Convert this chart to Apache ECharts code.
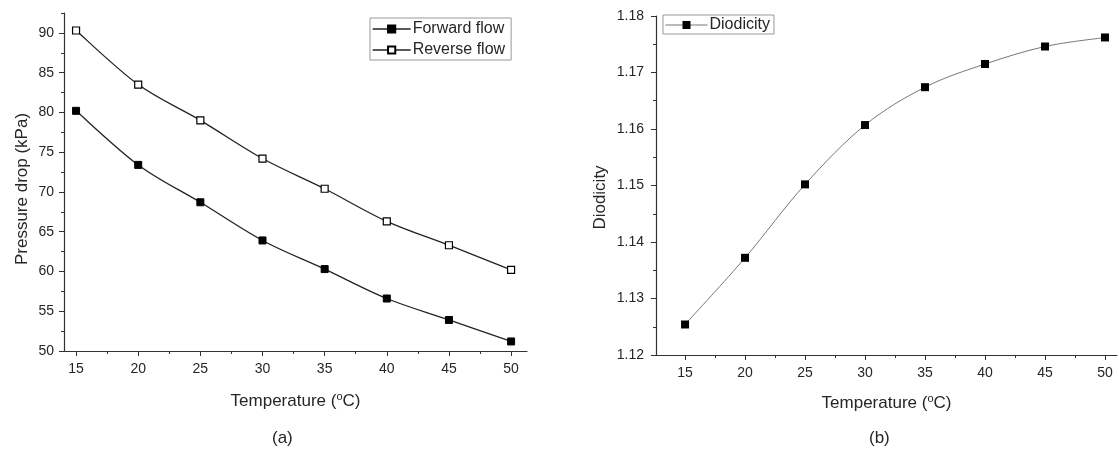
<!DOCTYPE html>
<html>
<head>
<meta charset="utf-8">
<script src="https://cdn.jsdelivr.net/npm/echarts@6/dist/echarts.min.js"></script>
<style>html,body{margin:0;padding:0;background:#fff;}#c{width:1119px;height:453px;}</style>
</head>
<body>
<div id="c"></div>
<script>
const temperatures = [15, 20, 25, 30, 35, 40, 45, 50];
const forwardFlow = [80.2, 73.4, 68.7, 63.9, 60.3, 56.6, 53.9, 51.2];
const reverseFlow = [90.3, 83.5, 79.0, 74.2, 70.4, 66.3, 63.3, 60.2];
const diodicity = [1.1254, 1.1372, 1.1502, 1.1607, 1.1674, 1.1715, 1.1746, 1.1762];
const xTicks = [15, 20, 25, 30, 35, 40, 45, 50];
const xMinorTicks = [17.5, 22.5, 27.5, 32.5, 37.5, 42.5, 47.5];
const yTicksA = [50, 55, 60, 65, 70, 75, 80, 85, 90];
const yMinorTicksA = [52.5, 57.5, 62.5, 67.5, 72.5, 77.5, 82.5, 87.5, 92.5];
const yTicksB = [1.12, 1.13, 1.14, 1.15, 1.16, 1.17, 1.18];
const yMinorTicksB = [1.125, 1.135, 1.145, 1.155, 1.165, 1.175];

const FONT = 'Liberation Sans, Arial, sans-serif';
const TXT = '#262626';
const AX = '#333';

const pairs = (ys) => temperatures.map((t, i) => [t, ys[i]]);

// smooth (Catmull-Rom) curve through the data points, positioned by the axes
function splineSeries(ys, grid, color, width) {
  return {
    type: 'custom', xAxisIndex: grid, yAxisIndex: grid, silent: true, z: 1,
    data: pairs(ys),
    renderItem: function (params, api) {
      if (params.dataIndex !== 0) return null;
      const p = temperatures.map((t, i) => api.coord([t, ys[i]]));
      let d = 'M' + p[0][0] + ' ' + p[0][1];
      for (let i = 0; i < p.length - 1; i++) {
        const p0 = p[Math.max(i - 1, 0)], p1 = p[i], p2 = p[i + 1], p3 = p[Math.min(i + 2, p.length - 1)];
        const c1 = [p1[0] + (p2[0] - p0[0]) / 6, p1[1] + (p2[1] - p0[1]) / 6];
        const c2 = [p2[0] - (p3[0] - p1[0]) / 6, p2[1] - (p3[1] - p1[1]) / 6];
        d += ' C' + c1[0] + ' ' + c1[1] + ' ' + c2[0] + ' ' + c2[1] + ' ' + p2[0] + ' ' + p2[1];
      }
      return { type: 'path', shape: { pathData: d }, style: { fill: null, stroke: color, lineWidth: width } };
    }
  };
}

const tempName = {
  name: '{a|Temperature (}{s|o}{a|C)}',
  nameLocation: 'middle',
  nameTextStyle: {
    rich: {
      a: { fontFamily: FONT, fontSize: 17, color: TXT },
      s: { fontFamily: FONT, fontSize: 11, color: TXT, verticalAlign: 'top', padding: [0, 0, 9, 0] }
    }
  }
};

function mainX(grid, min, max, gap) {
  return Object.assign({
    type: 'value', gridIndex: grid, position: 'bottom', min: min, max: max, nameGap: gap,
    axisLine: { show: true, lineStyle: { color: AX, width: 1.2 } },
    axisTick: { show: true, inside: false, length: 5, customValues: xTicks, lineStyle: { color: AX } },
    axisLabel: { customValues: xTicks, fontFamily: FONT, fontSize: 14, color: TXT, margin: 11 },
    splitLine: { show: false }
  }, tempName);
}
function minorX(grid, min, max) {
  return {
    type: 'value', gridIndex: grid, position: 'bottom', offset: 0, min: min, max: max,
    axisLine: { show: false },
    axisTick: { show: true, length: 3, customValues: xMinorTicks, lineStyle: { color: AX } },
    axisLabel: { show: false }, splitLine: { show: false }
  };
}
function mainY(grid, min, max, ticks, name, gap, shift, margin) {
  return {
    type: 'value', gridIndex: grid, position: 'left', min: min, max: max,
    name: name, nameLocation: 'middle', nameGap: gap,
    nameTextStyle: { fontFamily: FONT, fontSize: 17, color: TXT, padding: [0, shift, 0, 0] },
    axisLine: { show: true, lineStyle: { color: AX, width: 1.2 } },
    axisTick: { show: true, length: 5, customValues: ticks, lineStyle: { color: AX } },
    axisLabel: { customValues: ticks, fontFamily: FONT, fontSize: 14, color: TXT, margin: margin,
      formatter: (v) => grid === 1 ? v.toFixed(2) : String(v) },
    splitLine: { show: false }
  };
}
function minorY(grid, min, max, ticks) {
  return {
    type: 'value', gridIndex: grid, position: 'left', offset: 0, min: min, max: max,
    axisLine: { show: false },
    axisTick: { show: true, length: 3, customValues: ticks, lineStyle: { color: AX } },
    axisLabel: { show: false }, splitLine: { show: false }
  };
}

const chart = echarts.init(document.getElementById('c'), null, { renderer: 'canvas' });
chart.setOption({
  backgroundColor: '#fff',
  animation: false,
  grid: [
    { left: 64, top: 13, width: 463, height: 338 },
    { left: 656, top: 16, width: 461, height: 339 }
  ],
  xAxis: [
    mainX(0, 14.03, 51.28, 40),
    mainX(1, 12.58, 51.0, 38),
    minorX(0, 14.03, 51.28),
    minorX(1, 12.58, 51.0)
  ],
  yAxis: [
    mainY(0, 50, 92.5, yTicksA, 'Pressure drop (kPa)', 33, 14, 10),
    mainY(1, 1.12, 1.18, yTicksB, 'Diodicity', 47, 24, 12),
    minorY(0, 50, 92.5, yMinorTicksA),
    minorY(1, 1.12, 1.18, yMinorTicksB)
  ],
  legend: [
    {
      data: ['Forward flow', 'Reverse flow'], orient: 'vertical', left: 370, top: 18,
      backgroundColor: '#fff', borderColor: '#999', borderWidth: 1, borderRadius: 0,
      padding: [3, 6, 2, 2], itemGap: 5, itemWidth: 38, itemHeight: 9,
      lineStyle: { color: '#222', width: 1.3, opacity: 1 },
      textStyle: { fontFamily: FONT, fontSize: 16, color: TXT, padding: [0, 0, 0, -3] }
    },
    {
      data: ['Diodicity'], orient: 'vertical', left: 663, top: 15,
      backgroundColor: '#fff', borderColor: '#999', borderWidth: 1, borderRadius: 0,
      padding: [2, 4, 1, 2], itemWidth: 42, itemHeight: 10,
      lineStyle: { color: '#777', width: 1, opacity: 1 },
      textStyle: { fontFamily: FONT, fontSize: 16, color: TXT, padding: [0, 0, 0, -3] }
    }
  ],
  graphic: [
    { type: 'text', left: 272, top: 430, style: { text: '(a)', font: '17px ' + FONT, fill: TXT } },
    { type: 'text', left: 869, top: 430, style: { text: '(b)', font: '17px ' + FONT, fill: TXT } }
  ],
  series: [
    splineSeries(forwardFlow, 0, '#222', 1.3),
    splineSeries(reverseFlow, 0, '#222', 1.3),
    splineSeries(diodicity, 1, '#777', 1),
    {
      name: 'Forward flow', type: 'line', xAxisIndex: 0, yAxisIndex: 0, z: 3,
      data: pairs(forwardFlow), symbol: 'rect', symbolSize: 7,
      lineStyle: { color: '#222', width: 1.3, opacity: 0 },
      itemStyle: { color: '#000', borderColor: '#000', borderWidth: 1 }
    },
    {
      name: 'Reverse flow', type: 'line', xAxisIndex: 0, yAxisIndex: 0, z: 3,
      data: pairs(reverseFlow), symbol: 'rect', symbolSize: 7,
      lineStyle: { color: '#222', width: 1.3, opacity: 0 },
      itemStyle: { color: '#fff', borderColor: '#000', borderWidth: 1.2 }
    },
    {
      name: 'Diodicity', type: 'line', xAxisIndex: 1, yAxisIndex: 1, z: 3,
      data: pairs(diodicity), symbol: 'rect', symbolSize: 8,
      lineStyle: { color: '#777', width: 1, opacity: 0 },
      itemStyle: { color: '#000', borderColor: '#000', borderWidth: 0 }
    }
  ]
});
</script>
</body>
</html>
